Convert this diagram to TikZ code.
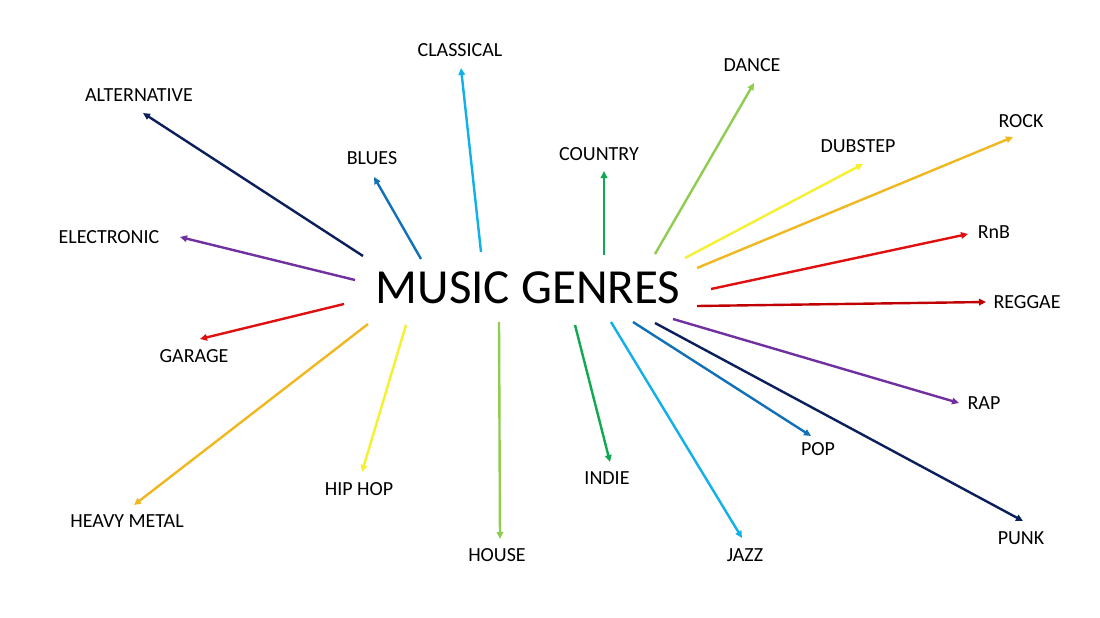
\documentclass[tikz,border=0pt]{standalone}
\usepackage{fontspec}
\setmainfont{Carlito}
\usetikzlibrary{arrows.meta}
\definecolor{cnavy}{HTML}{0A1F5C}
\definecolor{cblue}{HTML}{1070B8}
\definecolor{clblue}{HTML}{10B0E8}
\definecolor{cgreen}{HTML}{10A850}
\definecolor{clgreen}{HTML}{90CC50}
\definecolor{cyellow}{HTML}{F5F030}
\definecolor{cgold}{HTML}{F0B820}
\definecolor{cred}{HTML}{E01010}
\definecolor{cdred}{HTML}{C00000}
\definecolor{cpurple}{HTML}{7030A0}
\tikzset{
  genre/.style={font=\fontsize{20}{24}\selectfont, text=black, inner sep=0pt},
  title/.style={font=\fontsize{49}{58}\selectfont, text=black, inner sep=0pt},
  link/.style={line width=2.4pt, -{Triangle[length=7pt,width=6.5pt]}},
}
\begin{document}
\begin{tikzpicture}[x=1pt,y=-1pt]
\fill[white] (0,0) rectangle (1100,618);
\useasboundingbox (0,0) rectangle (1100,618);

\node[title] (center) at (528,288) {MUSIC GENRES};

% labels
\node[genre] (alt)   at (139,95)  {ALTERNATIVE};
\node[genre] (blues) at (372,158) {BLUES};
\node[genre] (class) at (460,50)  {CLASSICAL};
\node[genre] (elec)  at (109,237) {ELECTRONIC};
\node[genre] (gar)   at (194,356) {GARAGE};
\node[genre] (heavy) at (127,521) {HEAVY METAL};
\node[genre] (hip)   at (359,489) {HIP HOP};
\node[genre] (house) at (497,555) {HOUSE};
\node[genre] (indie) at (607,478) {INDIE};
\node[genre] (jazz)  at (745,555) {JAZZ};
\node[genre] (pop)   at (818,449) {POP};
\node[genre] (punk)  at (1021,538) {PUNK};
\node[genre] (rap)   at (984,403) {RAP};
\node[genre] (reg)   at (1027,302) {REGGAE};
\node[genre] (rnb)   at (994,232) {RnB};
\node[genre] (rock)  at (1021,121) {ROCK};
\node[genre] (dub)   at (858,146) {DUBSTEP};
\node[genre] (dance) at (752,65)  {DANCE};
\node[genre] (coun)  at (599,154) {COUNTRY};

% start and tip coordinates
\coordinate (altS) at (363,256);   \coordinate (altT) at (143,113);
\coordinate (bluS) at (421,259);   \coordinate (bluT) at (374,177);
\coordinate (claS) at (481,252);   \coordinate (claT) at (461,68);
\coordinate (eleS) at (355,280);   \coordinate (eleT) at (180,237);
\coordinate (garS) at (344,304);   \coordinate (garT) at (200,339);
\coordinate (heaS) at (368,324);   \coordinate (heaT) at (134,505);
\coordinate (hipS) at (406,325);   \coordinate (hipT) at (362,472);
\coordinate (houS) at (499,322);   \coordinate (houT) at (500,539);
\coordinate (indS) at (575,325);   \coordinate (indT) at (610,462);
\coordinate (jazS) at (611,322);   \coordinate (jazT) at (742,538);
\coordinate (popS) at (633,322);   \coordinate (popT) at (811,436);
\coordinate (punS) at (655,323);   \coordinate (punT) at (1023,521);
\coordinate (rapS) at (673,319);   \coordinate (rapT) at (959,403);
\coordinate (regS) at (697,306);   \coordinate (regT) at (986,302);
\coordinate (rnbS) at (711,289);   \coordinate (rnbT) at (968,234);
\coordinate (rocS) at (697,268);   \coordinate (rocT) at (1013,137);
\coordinate (dubS) at (685,258);   \coordinate (dubT) at (863,164);
\coordinate (danS) at (655,254);   \coordinate (danT) at (754,83);
\coordinate (couS) at (604,255);   \coordinate (couT) at (604,171);

\draw[link, cnavy]   (altS) -- (altT);
\draw[link, cblue]   (bluS) -- (bluT);
\draw[link, clblue]  (claS) -- (claT);
\draw[link, cpurple] (eleS) -- (eleT);
\draw[link, cred]    (garS) -- (garT);
\draw[link, cgold]   (heaS) -- (heaT);
\draw[link, cyellow] (hipS) -- (hipT);
\draw[link, clgreen] (houS) -- (houT);
\draw[link, cgreen]  (indS) -- (indT);
\draw[link, clblue]  (jazS) -- (jazT);
\draw[link, cblue]   (popS) -- (popT);
\draw[link, cnavy]   (punS) -- (punT);
\draw[link, cpurple] (rapS) -- (rapT);
\draw[link, cdred]   (regS) -- (regT);
\draw[link, cred]    (rnbS) -- (rnbT);
\draw[link, cgold]   (rocS) -- (rocT);
\draw[link, cyellow] (dubS) -- (dubT);
\draw[link, clgreen] (danS) -- (danT);
\draw[link, cgreen]  (couS) -- (couT);
\end{tikzpicture}
\end{document}
